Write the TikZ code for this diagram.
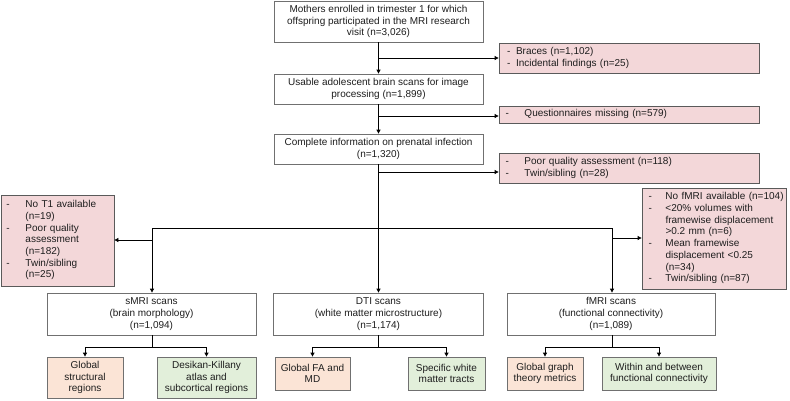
\documentclass[tikz,border=0pt]{standalone}
\usepackage{fontspec}
\setmainfont{Liberation Sans}
\usetikzlibrary{arrows.meta}
\definecolor{pinkf}{HTML}{F3D7D9}
\definecolor{orf}{HTML}{FBE4D6}
\definecolor{grf}{HTML}{E2EFDA}
\definecolor{wgray}{HTML}{707070}
\definecolor{pgray}{HTML}{5A5A5A}
\definecolor{txt}{HTML}{1E1E1E}
\newcommand\fs{\fontsize{10}{11.7}\selectfont}
\newcommand\plist[3]{\noindent\hspace*{#1pt}\begin{tabular}{@{}p{#2pt}@{}l@{}}#3\end{tabular}}
\tikzset{
  base/.style={font=\fs, text=txt, inner sep=0pt, line width=0.8pt},
  wbox/.style={base, draw=wgray, fill=white, align=center},
  pbox/.style={base, draw=pgray, fill=pinkf, align=left},
  obox/.style={base, draw=wgray, fill=orf, align=center},
  gbox/.style={base, draw=wgray, fill=grf, align=center},
  arr/.style={line width=0.8pt, draw=black, -{Triangle[length=4pt,width=4pt]}},
  ln/.style={line width=0.8pt, draw=black},
}
\begin{document}
\begin{tikzpicture}[x=1pt,y=-1pt]
\useasboundingbox (0,0) rectangle (790,400);
\fill[white] (0,0) rectangle (790,400);

% main column
\node[wbox, minimum width=209, minimum height=41] (top) at (378.5,21.5)
  {Mothers enrolled in trimester 1 for which\\offspring participated in the MRI research\\visit (n=3,026)};
\node[wbox, minimum width=209, minimum height=30] (b2) at (378.5,89)
  {Usable adolescent brain scans for image\\processing (n=1,899)};
\node[wbox, minimum width=209, minimum height=30] (b3) at (378.5,149)
  {Complete information on prenatal infection\\(n=1,320)};

% exclusion boxes
\node[pbox, text width=260, minimum height=30] (p1) at (629,58)
  {\plist{8}{9}{- & Braces (n=1,102)\\ - & Incidental findings (n=25)}};
\node[pbox, text width=260, minimum height=17] (p2) at (629,114.5)
  {\plist{6.5}{19}{- & Questionnaires missing (n=579)}};
\node[pbox, text width=260, minimum height=30] (p3) at (629,168)
  {\plist{6.5}{19}{- & Poor quality assessment (n=118)\\ - & Twin/sibling (n=28)}};
\node[pbox, text width=113, minimum height=91] (lp) at (57.5,240.5)
  {\plist{5.5}{19}{- & No T1 available\\ & (n=19)\\ - & Poor quality\\ & assessment\\ & (n=182)\\ - & Twin/sibling\\ & (n=25)}};
\node[pbox, text width=144, minimum height=101] (rp) at (714,238.5)
  {\plist{6.5}{17}{- & No fMRI available (n=104)\\ - & <20\% volumes with\\ & framewise displacement\\ & >0.2 mm (n=6)\\ - & Mean framewise\\ & displacement <0.25\\ & (n=34)\\ - & Twin/sibling (n=87)}};

% modality boxes
\node[wbox, minimum width=209, minimum height=42] (smri) at (151.5,314)
  {sMRI scans\\(brain morphology)\\(n=1,094)};
\node[wbox, minimum width=210, minimum height=42] (dti) at (378.5,314)
  {DTI scans\\(white matter microstructure)\\(n=1,174)};
\node[wbox, minimum width=208, minimum height=42] (fmri) at (611,314)
  {fMRI scans\\(functional connectivity)\\(n=1,089)};

% outcome boxes
\node[obox, minimum width=76, minimum height=41] (gs) at (85,377.5) {Global\\structural\\regions};
\node[gbox, minimum width=99, minimum height=41] (dk) at (206.5,377.5) {Desikan-Killany\\atlas and\\subcortical regions};
\node[obox, minimum width=75, minimum height=33] (gfa) at (312.5,373.5) {Global FA and\\MD};
\node[gbox, minimum width=77, minimum height=33] (sw) at (446.5,373.5) {Specific white\\matter tracts};
\node[obox, minimum width=76, minimum height=33] (gg) at (545,373.5) {Global graph\\theory metrics};
\node[gbox, minimum width=114, minimum height=33] (wb) at (659,373.5) {Within and between\\functional connectivity};

% main connectors
\draw[arr] (top.south) -- (b2.north);
\coordinate (j1) at (top.south |- p1.west);
\draw[arr] (j1) -- (p1.west);
\draw[arr] (b2.south) -- (b3.north);
\coordinate (j2) at (378.5,116);
\draw[arr] (j2) -- (j2 -| p2.west);
\draw[arr] (b3.south) -- (dti.north);
\coordinate (j3) at (378.5,172);
\draw[arr] (j3) -- (j3 -| p3.west);

\coordinate (hl) at (152,228);
\coordinate (hr) at (612,228);
\draw[ln] (hl) -- (hr);
\draw[arr] (hl) -- (hl |- smri.north);
\draw[arr] (hr) -- (hr |- fmri.north);
\coordinate (jl) at (152,240);
\draw[arr] (jl) -- (jl -| lp.east);
\coordinate (jr) at (612,238);
\draw[arr] (jr) -- (jr -| rp.west);

% outcome connectors
\coordinate (s1) at (152,347);
\draw[ln] (hl |- smri.south) -- (s1);
\draw[ln] (gs.north |- s1) -- (dk.north |- s1);
\draw[arr] (gs.north |- s1) -- (gs.north);
\draw[arr] (dk.north |- s1) -- (dk.north);

\coordinate (s2) at (378.5,347);
\draw[ln] (dti.south) -- (s2);
\draw[ln] (gfa.north |- s2) -- (sw.north |- s2);
\draw[arr] (gfa.north |- s2) -- (gfa.north);
\draw[arr] (sw.north |- s2) -- (sw.north);

\coordinate (s3) at (612,347);
\draw[ln] (hr |- fmri.south) -- (s3);
\draw[ln] (gg.north |- s3) -- (wb.north |- s3);
\draw[arr] (gg.north |- s3) -- (gg.north);
\draw[arr] (wb.north |- s3) -- (wb.north);
\end{tikzpicture}
\end{document}
